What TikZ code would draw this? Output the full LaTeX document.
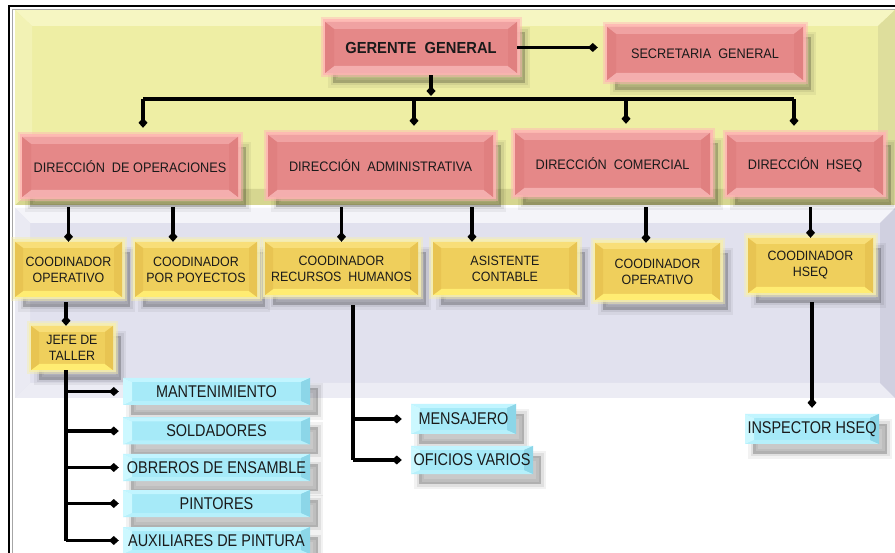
\documentclass[tikz,border=0pt]{standalone}
\usepackage{fontspec}
\setmainfont{Liberation Sans}[FakeStretch=0.92]
\newfontfamily\narrowfont{Liberation Sans}[FakeStretch=0.85]
\usetikzlibrary{arrows.meta}

\definecolor{txt}{HTML}{1A1A1A}
\definecolor{rosa}{HTML}{E58888}
\definecolor{rosaT}{HTML}{F0A2A2}
\definecolor{rosaB}{HTML}{F4AEAE}
\definecolor{rosaS}{HTML}{E08080}
\definecolor{rosaG}{HTML}{FFB4B4}
\definecolor{oro}{HTML}{EFCF5C}
\definecolor{oroT}{HTML}{F8DE78}
\definecolor{oroB}{HTML}{FFEC72}
\definecolor{oroS}{HTML}{E8C452}
\definecolor{oroG}{HTML}{F7EFAE}
\definecolor{cian}{HTML}{A6EAF8}
\definecolor{cianT}{HTML}{C2F5FF}
\definecolor{cianB}{HTML}{B6F0FB}
\definecolor{cianL}{HTML}{CCF8FF}
\definecolor{cianR}{HTML}{8CD6E8}
\definecolor{banda}{HTML}{EEEEA4}
\definecolor{bandaT}{HTML}{F6F6C2}
\definecolor{bandaL}{HTML}{F2F2B4}
\definecolor{bandaB}{HTML}{D6D690}
\definecolor{bandaR}{HTML}{DEDE9C}
\definecolor{lila}{HTML}{E1E1EE}
\definecolor{lilaT}{HTML}{F4F4F9}
\definecolor{lilaL}{HTML}{EAEAF3}
\definecolor{lilaB}{HTML}{ECECF4}
\definecolor{lilaR}{HTML}{D0D0E0}

\tikzset{
  bvx/.store in=\bvx, bvy/.store in=\bvy, bvx=8pt, bvy=7pt,
  bevel/.style n args={5}{fill=#1,
    path picture={
      \def\pb{path picture bounding box}
      \fill[#2] (\pb.north west) -- (\pb.north east) -- ([xshift=-\bvx,yshift=-\bvy]\pb.north east) -- ([xshift=\bvx,yshift=-\bvy]\pb.north west) -- cycle;
      \fill[#3] (\pb.south west) -- (\pb.south east) -- ([xshift=-\bvx,yshift=\bvy]\pb.south east) -- ([xshift=\bvx,yshift=\bvy]\pb.south west) -- cycle;
      \fill[#4] (\pb.north west) -- (\pb.south west) -- ([xshift=\bvx,yshift=\bvy]\pb.south west) -- ([xshift=\bvx,yshift=-\bvy]\pb.north west) -- cycle;
      \fill[#5] (\pb.north east) -- (\pb.south east) -- ([xshift=-\bvx,yshift=\bvy]\pb.south east) -- ([xshift=-\bvx,yshift=-\bvy]\pb.north east) -- cycle;
    }},
  wh/.style 2 args={minimum width=#1pt, minimum height=#2pt},
  sombra/.style={
    preaction={fill=black, draw=black, line width=10pt, opacity=.05, transform canvas={shift={(8pt,-10pt)}}},
    preaction={fill=black, draw=black, line width=5pt, opacity=.07, transform canvas={shift={(8pt,-10pt)}}},
    preaction={fill=black, opacity=.10, transform canvas={shift={(8pt,-10pt)}}}},
  brillo/.style={
    preaction={draw=#1, line width=9pt, opacity=.45},
    preaction={draw=#1, line width=5pt, opacity=.8}},
  caja/.style={inner sep=0pt, align=center, text=txt},
  dirbox/.style={caja, sombra, brillo=rosaG, bevel={rosa}{rosaT}{rosaB}{rosaS}{rosaS}, bvx=9pt, bvy=7pt,
    font=\fontsize{13.8}{16}\selectfont},
  coobox/.style={caja, sombra, brillo=oroG, bevel={oro}{oroT}{oroB}{oroS}{oroS}, bvx=8pt, bvy=6pt,
    font=\fontsize{13.5}{16}\selectfont},
  cianbox/.style={caja, sombra, bevel={cian}{cianT}{cianB}{cianL}{cianR}, bvx=9pt, bvy=4pt,
    font=\narrowfont\fontsize{17}{18}\selectfont},
  link/.style={draw=black, line width=3.2pt},
  rombo/.style={-{Diamond[length=10pt,width=9pt]}},
}

\begin{document}
\begin{tikzpicture}[x=1pt,y=-1pt]
\useasboundingbox (0,0) rectangle (895,553);
\fill[white] (0,0) rectangle (895,553);
\path[bevel={banda}{bandaT}{bandaB}{bandaL}{bandaR}, bvx=17pt, bvy=16pt] (15,10) rectangle (895,205); %yellow band
\path[bevel={lila}{lilaT}{lilaB}{lilaL}{lilaR}, bvx=15pt, bvy=15pt] (15,208) rectangle (895,398); %lavender band
\draw[line width=1.5pt] (9,553) -- (9,6) -- (895,6); %frame
\draw[black!35, line width=.5pt] (12.5,553) -- (12.5,9.5) -- (895,9.5);

% directions
\node[dirbox, wh={192}{51}, font=\bfseries\fontsize{16}{18}\selectfont] (ger) at (421,47.5) {GERENTE~ GENERAL};
\node[dirbox, wh={196}{53}] (sec) at (705,53.5) {SECRETARIA~ GENERAL};
\node[dirbox, wh={216}{60}] (dop) at (130,167) {DIRECCIÓN~ DE OPERACIONES};
\node[dirbox, wh={225}{62}] (dad) at (380.5,166) {DIRECCIÓN~ ADMINISTRATIVA};
\node[dirbox, wh={195}{62}] (dco) at (612.5,164) {DIRECCIÓN~ COMERCIAL};
\node[dirbox, wh={156}{60}] (dhs) at (805,165) {DIRECCIÓN~ HSEQ};

% coordinators
\node[coobox, wh={107}{55}] (cop) at (68.5,269.5) {COODINADOR\\OPERATIVO};
\node[coobox, wh={122}{55}] (cpy) at (196,269.5) {COODINADOR\\POR POYECTOS};
\node[coobox, wh={153}{53}] (crh) at (341.5,268.5) {COODINADOR\\RECURSOS~ HUMANOS};
\node[coobox, wh={144}{53}] (aco) at (505,268.5) {ASISTENTE\\CONTABLE};
\node[coobox, wh={125}{57}] (cop2) at (657.5,271.5) {COODINADOR\\OPERATIVO};
\node[coobox, wh={125}{55}] (chs) at (810.5,265.5) {COODINADOR\\HSEQ};
\node[coobox, wh={82}{44}] (jef) at (72,348) {JEFE DE\\TALLER};

% staff
\node[cianbox, wh={187}{27}] (man) at (216.5,391.5) {MANTENIMIENTO};
\node[cianbox, wh={187}{27}] (sol) at (216.5,431) {SOLDADORES};
\node[cianbox, wh={187}{27}] (obr) at (216.5,467.5) {OBREROS DE ENSAMBLE};
\node[cianbox, wh={187}{27}] (pin) at (216.5,503.5) {PINTORES};
\node[cianbox, wh={187}{27}] (aux) at (216.5,540.5) {AUXILIARES DE PINTURA};
\node[cianbox, wh={105}{30}] (men) at (463.5,419) {MENSAJERO};
\node[cianbox, wh={122}{28}] (ofi) at (472,460) {OFICIOS VARIOS};
\node[cianbox, wh={134}{30}] (ins) at (812,429) {INSPECTOR HSEQ};

% connectors
\coordinate (bus) at (431,99);
\coordinate (busL) at (143,99);
\coordinate (busR) at (794,99);
\draw[link,rombo,shorten >=9pt] (ger.east) -- (ger.east -| sec.west);
\draw[link,rombo,shorten <=2pt,shorten >=3pt] (ger.south -| bus) -- (bus);
\draw[link] (busL) -- (busR); %bus
\draw[link,rombo,shorten >=9pt] (busL) -- (busL |- dop.north);
\draw[link,rombo,shorten >=9pt] ([xshift=33.5pt]dad.north |- bus) -- ([xshift=33.5pt]dad.north);
\draw[link,rombo,shorten >=9pt] ([xshift=13.5pt]dco.north |- bus) -- ([xshift=13.5pt]dco.north);
\draw[link,rombo,shorten >=9pt] (busR) -- (busR |- dhs.north);

\draw[link,rombo,shorten <=10pt] (dop.south -| cop.north) -- (cop.north);
\draw[link,rombo,shorten <=10pt] ([xshift=43pt]dop.south) -- ([xshift=43pt]dop.south |- cpy.north);
\draw[link,rombo,shorten <=10pt] (dad.south -| crh.north) -- (crh.north);
\draw[link,rombo,shorten <=10pt] ([xshift=-33pt]aco.north |- dad.south) -- ([xshift=-33pt]aco.north);
\draw[link,rombo,shorten <=12pt] ([xshift=-11.5pt]cop2.north |- dco.south) -- ([xshift=-11.5pt]cop2.north);
\draw[link,rombo,shorten <=12pt] (dhs.south -| chs.north) -- (chs.north);

\draw[link,rombo,shorten <=5pt] ([xshift=-6pt]jef.north |- cop.south) -- ([xshift=-6pt]jef.north);
\coordinate (tronco) at ([xshift=-6pt]jef.south);
\draw[link] (tronco) -- (tronco |- aux.west);
\foreach \h in {man,sol,obr,pin,aux}
  \draw[link,rombo,shorten >=4pt] (tronco |- \h.west) -- (\h.west);

\coordinate (tronco2) at ([xshift=11.5pt]crh.south);
\draw[link,shorten <=10pt] (tronco2) -- (tronco2 |- ofi.west);
\foreach \h in {men,ofi}
  \draw[link,rombo,shorten >=9pt] (tronco2 |- \h.west) -- (\h.west);

\draw[link,rombo,shorten <=9pt,shorten >=6pt] (chs.south -| ins.north) -- (ins.north);
\end{tikzpicture}
\end{document}
